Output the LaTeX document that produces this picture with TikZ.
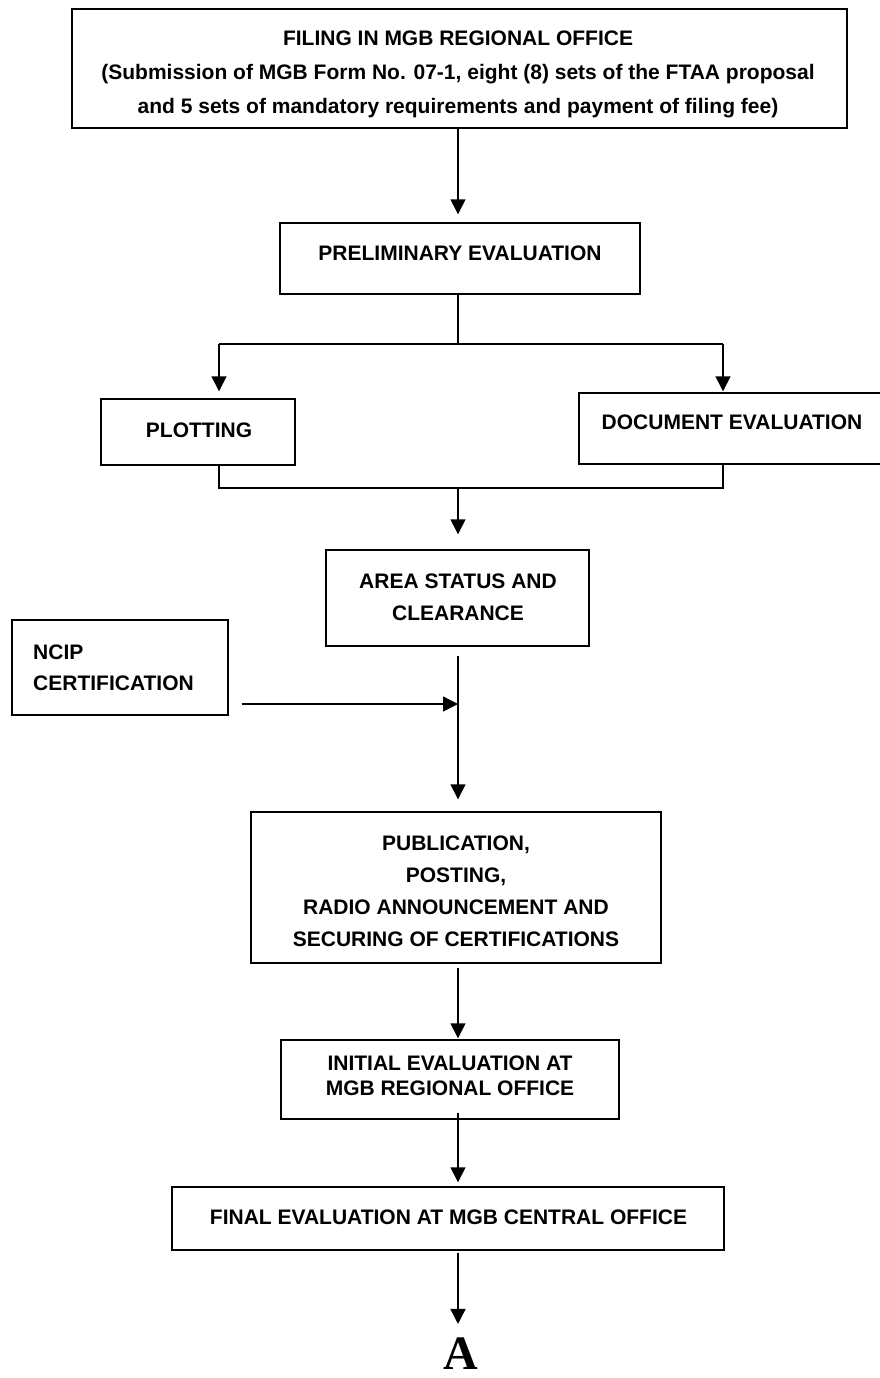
\documentclass[tikz,border=0pt]{standalone}
\usepackage{fontspec}
\setmainfont{Liberation Sans}
\newfontfamily\serifA{Liberation Serif}
\usetikzlibrary{arrows.meta}
\begin{document}
\begin{tikzpicture}[x=1pt,y=-1pt,
  box/.style={draw, line width=1.4pt, inner sep=0pt},
  txt/.style={inner sep=0pt, align=center, font=\bfseries\fontsize{21}{#1}\selectfont},
  txt/.default=34,
  conn/.style={line width=1.4pt},
  arr/.style={line width=1.4pt, -{Triangle[length=15pt,width=15pt]}}]
\clip (0,0) rectangle (880,1378);
% boxes
\node[box, minimum width=775pt, minimum height=119pt] (top) at (459.5,68.5) {};
\node[txt=34] (topt) at (458,74) {FILING IN MGB REGIONAL OFFICE\\(Submission of MGB Form No. 07-1, eight (8) sets of the FTAA proposal\\and 5 sets of mandatory requirements and payment of filing fee)};
\node[box, minimum width=360pt, minimum height=71pt] (prel) at (460,258.5) {};
\node[txt] (prelt) at (460,253) {PRELIMINARY EVALUATION};
\node[box, minimum width=194pt, minimum height=66pt] (plot) at (198,432) {};
\node[txt] (plott) at (199,430) {PLOTTING};
\node[box, minimum width=306pt, minimum height=71pt] (doc) at (732,428.5) {};
\node[txt] (doct) at (732,422) {DOCUMENT EVALUATION};
\node[box, minimum width=263pt, minimum height=96pt] (area) at (457.5,598) {};
\node[txt=32] (areat) at (458,597) {AREA STATUS AND\\CLEARANCE};
\node[box, minimum width=216pt, minimum height=95pt] (ncip) at (120,667.5) {};
\node[txt=31, align=left, anchor=west] (ncipt) at (33,667.5) {NCIP\\CERTIFICATION};
\node[box, minimum width=410pt, minimum height=151pt] (pub) at (456,887.5) {};
\node[txt=32] (pubt) at (456,891) {PUBLICATION,\\POSTING,\\RADIO ANNOUNCEMENT AND\\SECURING OF CERTIFICATIONS};
\node[box, minimum width=338pt, minimum height=79pt] (init) at (450,1079.5) {};
\node[txt=25] (initt) at (450,1076) {INITIAL EVALUATION AT\\MGB REGIONAL OFFICE};
\node[box, minimum width=552pt, minimum height=63pt] (fin) at (448,1218.5) {};
\node[txt] (fint) at (448.5,1217) {FINAL EVALUATION AT MGB CENTRAL OFFICE};
\node[inner sep=0pt, font=\serifA\bfseries\fontsize{48}{48}\selectfont] (A) at (461,1354) {A};
% connectors
\coordinate (ax) at (458,0);
\coordinate (bl) at (219,344);
\coordinate (br) at (723,344);
\coordinate (sp) at (458,344);
\coordinate (jn) at (458,488);
\coordinate (nj) at (458,704);
\draw[arr, shorten >=8pt] (ax |- top.south) -- (ax |- prel.north);
\draw[conn] (ax |- prel.south) -- (sp);
\draw[conn] (bl) -- (br);
\draw[arr, shorten >=7pt] (bl) -- (bl |- plot.north);
\draw[arr, shorten >=1pt] (br) -- (br |- doc.north);
\draw[conn] (bl |- plot.south) -- (bl |- jn) -- (br |- jn) -- (br |- doc.south);
\draw[arr, shorten >=15pt] (jn) -- (ax |- area.north);
\draw[arr, shorten <=9pt, shorten >=12pt] (ax |- area.south) -- (ax |- pub.north);
\draw[arr, shorten <=13pt] (ncip.east |- nj) -- (nj);
\draw[arr, shorten <=4pt, shorten >=1pt] (ax |- pub.south) -- (ax |- init.north);
\draw[arr, shorten <=-7pt, shorten >=4pt] (ax |- init.south) -- (ax |- fin.north);
\draw[arr, shorten <=2pt, shorten >=14pt] (ax |- fin.south) -- (ax |- A.north);
\end{tikzpicture}
\end{document}
